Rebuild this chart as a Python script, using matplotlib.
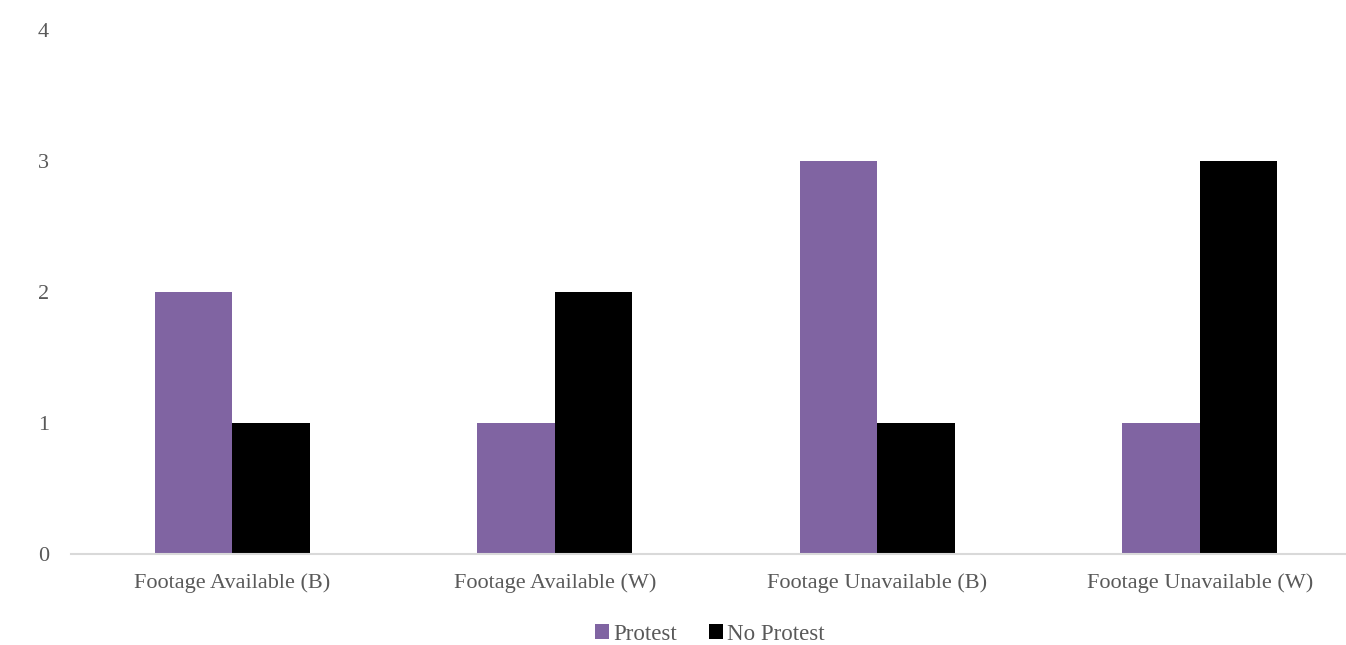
import matplotlib.pyplot as plt
import numpy as np

# Counts per footage/race condition
categories = ["Footage Available (B)", "Footage Available (W)",
              "Footage Unavailable (B)", "Footage Unavailable (W)"]
protest = [2, 1, 3, 1]
no_protest = [1, 2, 1, 3]

plt.rcParams['font.family'] = ['Liberation Serif', 'DejaVu Serif']

fig = plt.figure(figsize=(13.46, 6.45), dpi=100)
ax = fig.add_axes([71 / 1346, 91 / 645, 1290 / 1346, 524 / 645])

x = np.arange(len(categories))
w = 0.24
ax.bar(x - w / 2, protest, width=w, color="#8064A2", label="Protest")
ax.bar(x + w / 2, no_protest, width=w, color="#000000", label="No Protest")

ax.set_xlim(-0.5, 3.5)
ax.set_ylim(0, 4)
ax.set_yticks([0, 1, 2, 3, 4])
ax.set_xticks(x)
ax.set_xticklabels(categories, fontsize=16.5)
ax.tick_params(axis="both", length=0, labelsize=16, colors="#595959")
ax.tick_params(axis="y", pad=16)
ax.tick_params(axis="x", pad=14)

for s in ["top", "right", "left"]:
    ax.spines[s].set_visible(False)
ax.spines["bottom"].set_color("#D9D9D9")
ax.spines["bottom"].set_linewidth(1.5)

fig.legend(loc="center", bbox_to_anchor=(710 / 1346, 1 - 634 / 645), ncol=2,
           frameon=False, fontsize=16.5, handlelength=0.6, handleheight=0.6,
           handletextpad=0.2, columnspacing=1.4, labelcolor="#595959")

plt.savefig("out.png", dpi=100)
